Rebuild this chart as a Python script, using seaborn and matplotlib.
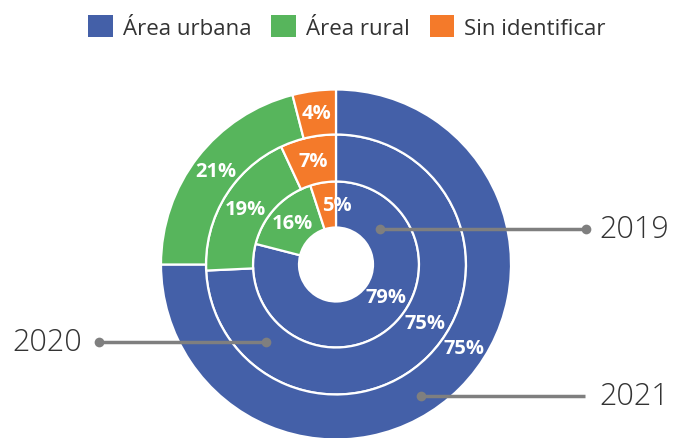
import matplotlib.pyplot as plt
import numpy as np
import seaborn as sns
from matplotlib.patches import Patch

# =====================================================================
# DATA
# =====================================================================
categories = ["Área urbana", "Área rural", "Sin identificar"]
years = ["2019", "2020", "2021"]
share_2019 = [79, 16, 5]
share_2020 = [75, 19, 7]
share_2021 = [75, 21, 4]

colors = ["#4460a8", "#57b55c", "#f47a2a"]

sns.set_theme(style="white")
plt.rcParams["font.family"] = ["Open Sans", "DejaVu Sans"]

W, H = 674, 439
fig = plt.figure(figsize=(W / 100, H / 100), dpi=100)
ax = fig.add_axes([0, 0, 1, 1])

# pixel-space layout (y measured from bottom)
cx, cy = 336, H - 265.5
rings = [  # (values, outer radius, width)
    (share_2019, 83, 46),
    (share_2020, 130, 47),
    (share_2021, 175, 45),
]
# blue labels sit lower-right in the reference; inner orange nudged to the top
angle_override = {(0, 0): -33, (1, 0): -33, (2, 0): -33, (0, 2): 89}

for ri, (vals, r_out, w) in enumerate(rings):
    ax.pie(vals, colors=colors, radius=r_out, center=(cx, cy), startangle=90,
           counterclock=False,
           wedgeprops=dict(width=w, edgecolor="white", linewidth=1.6))
    total = sum(vals)
    start = 90.0
    r_lab = r_out - w / 2
    for ci, v in enumerate(vals):
        span = v / total * 360
        mid = start - span / 2
        start -= span
        ang = np.deg2rad(angle_override.get((ri, ci), mid))
        ax.text(cx + r_lab * np.cos(ang), cy + r_lab * np.sin(ang), f"{v}%",
                ha="center", va="center", color="white", fontsize=14.5,
                fontweight="bold")

ax.set_xlim(0, W)
ax.set_ylim(0, H)
ax.set_aspect("equal")
ax.axis("off")

# leader lines for the years
line_c = "#7f7f7f"
leaders = [  # (x0, x1, y, dots at, label x, ha)
    (380, 586, 230, (380, 586), 599, "left"),
    (99, 266, 343, (99, 266), 82, "right"),
    (421, 585, 397, (421,), 599, "left"),
]
for (x0, x1, y, dots, tx, ha), yr in zip(leaders, years):
    ax.plot([x0, x1], [H - y, H - y], color=line_c, lw=2.5, solid_capstyle="butt")
    ax.plot(dots, [H - y] * len(dots), "o", color=line_c, ms=7, mec="none")
    ax.text(tx, H - y, yr, ha=ha, va="center", fontsize=22, color="#333333",
            fontweight="light")

handles = [Patch(facecolor=c, edgecolor="none") for c in colors]
fig.legend(handles, categories, loc="center", bbox_to_anchor=(347 / W, 1 - 28 / H),
           ncol=3, frameon=False, fontsize=16, handlelength=1.1, handleheight=1.1,
           handletextpad=0.45, columnspacing=0.9, labelcolor="#333333")

fig.savefig("out.png", dpi=100)
